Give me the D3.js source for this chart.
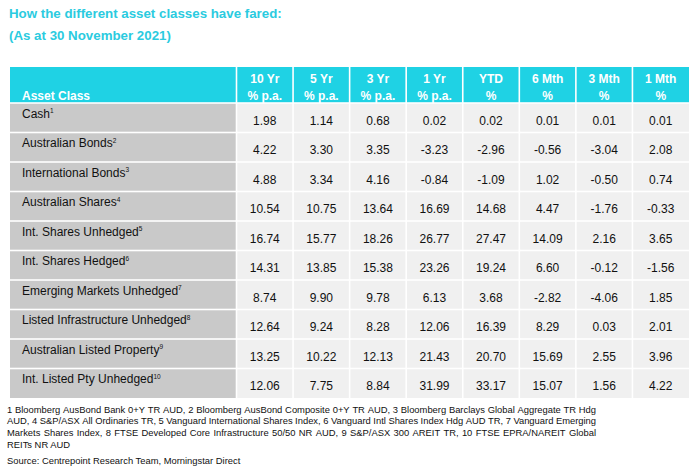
<!DOCTYPE html>
<html><head><meta charset="utf-8">
<script src="https://cdn.jsdelivr.net/npm/d3@7/dist/d3.min.js"></script>
<style>html,body{margin:0;padding:0;background:#fff;}svg{display:block;font-family:"Liberation Sans",Arial,sans-serif;}</style>
</head><body><svg id="c" width="699" height="473"></svg>
<script>
const titleLines = ["How the different asset classes have fared:", "(As at 30 November 2021)"];
const assetClasses = ["Cash","Australian Bonds","International Bonds","Australian Shares","Int. Shares Unhedged","Int. Shares Hedged","Emerging Markets Unhedged","Listed Infrastructure Unhedged","Australian Listed Property","Int. Listed Pty Unhedged"];
const footnoteRefs = ["1","2","3","4","5","6","7","8","9","10"];
const periods = ["10 Yr","5 Yr","3 Yr","1 Yr","YTD","6 Mth","3 Mth","1 Mth"];
const units = ["% p.a.","% p.a.","% p.a.","% p.a.","%","%","%","%"];
const tenYr   = [1.98, 4.22, 4.88, 10.54, 16.74, 14.31, 8.74, 12.64, 13.25, 12.06];
const fiveYr  = [1.14, 3.30, 3.34, 10.75, 15.77, 13.85, 9.90, 9.24, 10.22, 7.75];
const threeYr = [0.68, 3.35, 4.16, 13.64, 18.26, 15.38, 9.78, 8.28, 12.13, 8.84];
const oneYr   = [0.02, -3.23, -0.84, 16.69, 26.77, 23.26, 6.13, 12.06, 21.43, 31.99];
const ytd     = [0.02, -2.96, -1.09, 14.68, 27.47, 19.24, 3.68, 16.39, 20.70, 33.17];
const sixMth  = [0.01, -0.56, 1.02, 4.47, 14.09, 6.60, -2.82, 8.29, 15.69, 15.07];
const threeMth= [0.01, -3.04, -0.50, -1.76, 2.16, -0.12, -4.06, 0.03, 2.55, 1.56];
const oneMth  = [0.01, 2.08, 0.74, -0.33, 3.65, -1.56, 1.85, 2.01, 3.96, 4.22];
const footnoteLines = [
 "1 Bloomberg AusBond Bank 0+Y TR AUD, 2 Bloomberg AusBond Composite 0+Y TR AUD, 3 Bloomberg Barclays Global Aggregate TR Hdg",
 "AUD, 4 S&P/ASX All Ordinaries TR, 5 Vanguard International Shares Index, 6 Vanguard Intl Shares Index Hdg AUD TR, 7 Vanguard Emerging",
 "Markets Shares Index, 8 FTSE Developed Core Infrastructure 50/50 NR AUD, 9 S&P/ASX 300 AREIT TR, 10 FTSE EPRA/NAREIT Global",
 "REITs NR AUD"];
const sourceLine = "Source: Centrepoint Research Team, Morningstar Direct";

const columns = [tenYr, fiveYr, threeYr, oneYr, ytd, sixMth, threeMth, oneMth];

const svg = d3.select("#c");
const fmt = d3.formatLocale({decimal:".", thousands:",", grouping:[3], currency:["$",""], minus:"-"}).format(".2f");

const cyan = "#1fd2e4", titleCol = "#2bcbe0", labelBg = "#c9c9c9", cellBg = "#f0f0f0", ink = "#111";
const left = 10, labelRight = 236.5, right = 689, headTop = 67, headBottom = 103, bottom = 398;

const x = d3.scaleBand().domain(d3.range(periods.length)).range([labelRight, right]).paddingInner(0);
const y = d3.scaleBand().domain(d3.range(assetClasses.length)).range([headBottom, bottom]);
const gap = 0.8;

// title
svg.selectAll("text.title").data(titleLines).join("text").attr("class","title")
  .attr("x", 9).attr("y", (d,i)=> 18 + i*22)
  .attr("font-size", 13.3).attr("font-weight","bold").attr("fill", titleCol).text(d=>d);

// header background
svg.append("rect").attr("x", left).attr("y", headTop).attr("width", labelRight-left-gap).attr("height", headBottom-headTop-gap).attr("fill", cyan);
svg.selectAll("rect.hcell").data(periods).join("rect").attr("class","hcell")
  .attr("x",(d,i)=>x(i)+gap).attr("y",headTop).attr("width",(d,i)=> x.bandwidth()-2*gap + (i===periods.length-1?gap:0)).attr("height",headBottom-headTop-gap).attr("fill",cyan);
svg.append("text").attr("x",22).attr("y",100).attr("font-size",12).attr("font-weight","bold").attr("fill","#fff").text("Asset Class");
svg.selectAll("text.hp").data(periods).join("text").attr("class","hp")
  .attr("x",(d,i)=>x(i)+x.bandwidth()/2).attr("y",83).attr("text-anchor","middle")
  .attr("font-size",12).attr("font-weight","bold").attr("fill","#fff").text(d=>d);
svg.selectAll("text.hu").data(units).join("text").attr("class","hu")
  .attr("x",(d,i)=>x(i)+x.bandwidth()/2).attr("y",99.5).attr("text-anchor","middle")
  .attr("font-size",12).attr("font-weight","bold").attr("fill","#fff").text(d=>d);

// rows
const rows = svg.selectAll("g.row").data(assetClasses).join("g").attr("class","row")
  .attr("transform",(d,i)=>`translate(0,${y(i)})`);
rows.append("rect").attr("x",left).attr("y",gap).attr("width",labelRight-left-gap).attr("height",(d,i)=> y.bandwidth()-2*gap + (i===assetClasses.length-1?gap:0)).attr("fill",labelBg);
const lt = rows.append("text").attr("x",22).attr("y",14.5).attr("font-size",12).attr("fill",ink);
lt.append("tspan").text(d=>d);
lt.append("tspan").attr("dy",-4.5).attr("font-size",6.5).text((d,i)=>footnoteRefs[i]);

rows.each(function(d, r){
  const g = d3.select(this);
  g.selectAll("rect.cell").data(columns).join("rect").attr("class","cell")
    .attr("x",(c,i)=>x(i)+gap).attr("y",gap)
    .attr("width",(c,i)=> x.bandwidth()-2*gap + (i===columns.length-1?gap:0))
    .attr("height", y.bandwidth()-2*gap + (r===assetClasses.length-1?gap:0)).attr("fill",cellBg);
  g.selectAll("text.val").data(columns).join("text").attr("class","val")
    .attr("x",(c,i)=>x(i)+x.bandwidth()/2).attr("y",21.5).attr("text-anchor","middle")
    .attr("font-size",12).attr("fill",ink).text(c=>fmt(c[r]));
});

// footnotes (justified)
const fnX = 7, fnRight = 596, fnSize = 9.4;
footnoteLines.forEach((line, li) => {
  const yy = 412.5 + li*11.8;
  const justify = li < footnoteLines.length - 1;
  const t = svg.append("text").attr("x",fnX).attr("y",yy).attr("font-size",fnSize).attr("fill",ink);
  if (!justify) { t.text(line); return; }
  const words = line.split(" ");
  const widths = words.map(w => { t.text(w); return t.node().getComputedTextLength(); });
  t.text(null);
  const total = d3.sum(widths);
  const sp = (fnRight - fnX - total) / (words.length - 1);
  let cx = fnX;
  words.forEach((w, k) => {
    t.append("tspan").attr("x", cx).text(w);
    cx += widths[k] + sp;
  });
});
svg.append("text").attr("x",fnX).attr("y",463.5).attr("font-size",fnSize).attr("fill",ink).text(sourceLine);
</script></body></html>
